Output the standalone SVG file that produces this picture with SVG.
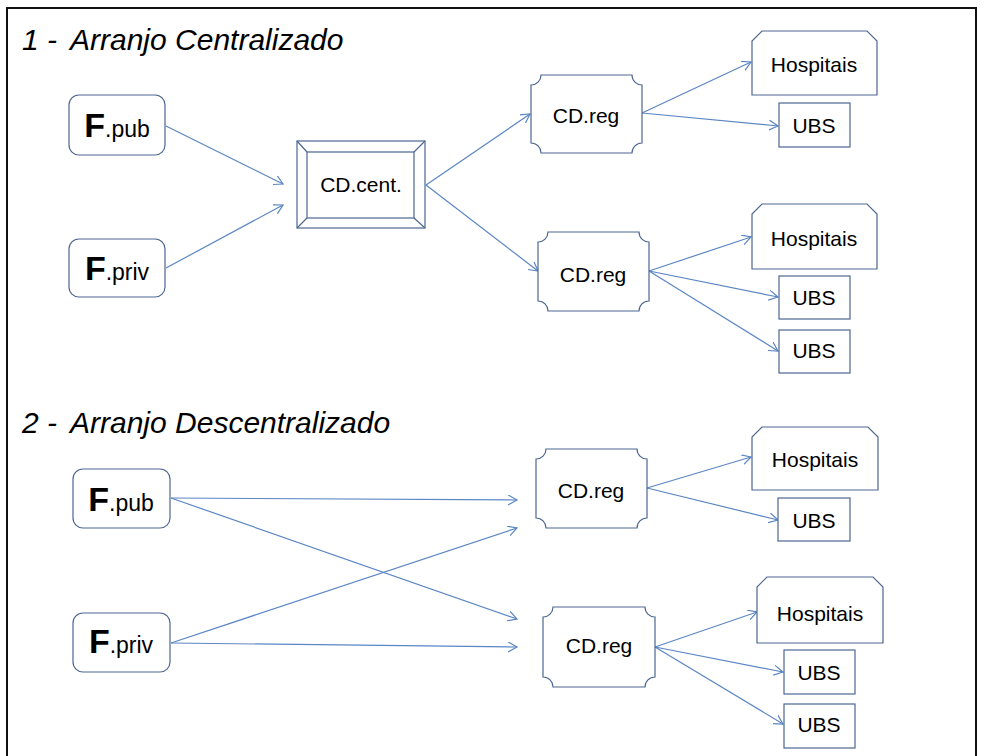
<svg xmlns="http://www.w3.org/2000/svg" width="990" height="756" viewBox="0 0 990 756">
  <style>
    .node { fill: #ffffff; stroke: #4e6792; stroke-width: 1.2; }
    .lbl { font-family: "Liberation Sans", Arial, sans-serif; font-size: 21px; fill: #000000; text-anchor: middle; }
    .title { font-family: "Liberation Sans", Arial, sans-serif; font-size: 30px; font-style: italic; fill: #000000; }
    .big { font-family: "Liberation Sans", Arial, sans-serif; font-size: 34px; font-weight: bold; }
    .small { font-family: "Liberation Sans", Arial, sans-serif; font-size: 23px; }
    .conn { fill: none; stroke: #5b86c4; stroke-width: 1.2; marker-end: url(#arrow); }
  </style>
  <defs>
    <marker id="arrow" markerUnits="userSpaceOnUse" markerWidth="12" markerHeight="12" refX="9" refY="5" orient="auto">
      <path d="M0,0 L9,5 L0,10" fill="none" stroke="#5b86c4" stroke-width="1.2"/>
    </marker>
  </defs>

  <rect width="990" height="756" fill="#ffffff"/>
  <!-- outer frame (open at the bottom) -->
  <path d="M7,756 V8 H976 V756" fill="none" stroke="#111111" stroke-width="2"/>

  <!-- section titles -->
  <text class="title" x="22" y="50">1 -</text>
  <text class="title" x="70" y="50">Arranjo Centralizado</text>
  <text class="title" x="22" y="433">2 -</text>
  <text class="title" x="70" y="433">Arranjo Descentralizado</text>

  <g id="connectors">
    <!-- section 1 -->
    <line class="conn" x1="166" y1="126" x2="283" y2="184"/>
    <line class="conn" x1="166" y1="268" x2="283" y2="205"/>
    <line class="conn" x1="426" y1="185" x2="530" y2="114"/>
    <line class="conn" x1="426" y1="185" x2="538" y2="271"/>
    <line class="conn" x1="642" y1="113" x2="751" y2="62"/>
    <line class="conn" x1="642" y1="113" x2="778" y2="126"/>
    <line class="conn" x1="649" y1="271" x2="751" y2="237"/>
    <line class="conn" x1="649" y1="271" x2="778" y2="297"/>
    <line class="conn" x1="649" y1="271" x2="778" y2="351"/>
    <!-- section 2 -->
    <line class="conn" x1="171" y1="498" x2="517" y2="500"/>
    <line class="conn" x1="171" y1="498" x2="517" y2="619"/>
    <line class="conn" x1="171" y1="643" x2="517" y2="528"/>
    <line class="conn" x1="171" y1="643" x2="517" y2="647"/>
    <line class="conn" x1="647" y1="488" x2="751" y2="457"/>
    <line class="conn" x1="647" y1="488" x2="778" y2="520"/>
    <line class="conn" x1="655" y1="647" x2="757" y2="612"/>
    <line class="conn" x1="655" y1="647" x2="783" y2="672"/>
    <line class="conn" x1="655" y1="647" x2="783" y2="724"/>
  </g>

  <!-- section 1 nodes -->
  <g id="fpub1">
    <rect class="node" x="69" y="95" width="96" height="60" rx="10"/>
    <text x="117" y="137" text-anchor="middle"><tspan class="big">F</tspan><tspan class="small">.pub</tspan></text>
  </g>
  <g id="fpriv1">
    <rect class="node" x="69" y="239" width="96" height="58" rx="10"/>
    <text x="117" y="280" text-anchor="middle"><tspan class="big">F</tspan><tspan class="small">.priv</tspan></text>
  </g>
  <g id="cdcent">
    <rect class="node" x="297" y="141" width="128" height="87"/>
    <rect class="node" x="307" y="152" width="107" height="66"/>
    <path d="M297,141 L307,152 M425,141 L414,152 M297,228 L307,218 M425,228 L414,218" fill="none" stroke="#4e6792" stroke-width="1.2"/>
    <text class="lbl" x="361" y="192">CD.cent.</text>
  </g>
  <g id="cdreg1">
    <path class="node" d="M541,75 H632 A10,10 0 0 0 642,85 V143 A10,10 0 0 0 632,153 H541 A10,10 0 0 0 531,143 V85 A10,10 0 0 0 541,75 Z"/>
    <text class="lbl" x="586" y="123">CD.reg</text>
  </g>
  <g id="cdreg2">
    <path class="node" d="M548,232 H639 A10,10 0 0 0 649,242 V301 A10,10 0 0 0 639,311 H548 A10,10 0 0 0 538,301 V242 A10,10 0 0 0 548,232 Z"/>
    <text class="lbl" x="593" y="282">CD.reg</text>
  </g>
  <g id="hosp1">
    <path class="node" d="M762,31 H867 L877,41 V95 H752 V41 Z"/>
    <text class="lbl" x="814" y="72">Hospitais</text>
  </g>
  <g id="ubs1">
    <rect class="node" x="779" y="103" width="71" height="44"/>
    <text class="lbl" x="814" y="133">UBS</text>
  </g>
  <g id="hosp2">
    <path class="node" d="M762,204 H867 L877,214 V269 H752 V214 Z"/>
    <text class="lbl" x="814" y="246">Hospitais</text>
  </g>
  <g id="ubs2">
    <rect class="node" x="779" y="276" width="71" height="43"/>
    <text class="lbl" x="814" y="305">UBS</text>
  </g>
  <g id="ubs3">
    <rect class="node" x="779" y="330" width="71" height="43"/>
    <text class="lbl" x="814" y="358">UBS</text>
  </g>

  <!-- section 2 nodes -->
  <g id="fpub2">
    <rect class="node" x="73" y="469" width="97" height="59" rx="10"/>
    <text x="121" y="511" text-anchor="middle"><tspan class="big">F</tspan><tspan class="small">.pub</tspan></text>
  </g>
  <g id="fpriv2">
    <rect class="node" x="73" y="613" width="97" height="59" rx="10"/>
    <text x="121" y="653" text-anchor="middle"><tspan class="big">F</tspan><tspan class="small">.priv</tspan></text>
  </g>
  <g id="cdreg3">
    <path class="node" d="M546,449 H637 A10,10 0 0 0 647,459 V518 A10,10 0 0 0 637,528 H546 A10,10 0 0 0 536,518 V459 A10,10 0 0 0 546,449 Z"/>
    <text class="lbl" x="591" y="498">CD.reg</text>
  </g>
  <g id="cdreg4">
    <path class="node" d="M553,607 H645 A10,10 0 0 0 655,617 V677 A10,10 0 0 0 645,687 H553 A10,10 0 0 0 543,677 V617 A10,10 0 0 0 553,607 Z"/>
    <text class="lbl" x="599" y="653">CD.reg</text>
  </g>
  <g id="hosp3">
    <path class="node" d="M762,427 H868 L878,437 V490 H752 V437 Z"/>
    <text class="lbl" x="815" y="467">Hospitais</text>
  </g>
  <g id="ubs4">
    <rect class="node" x="778" y="498" width="72" height="43"/>
    <text class="lbl" x="814" y="528">UBS</text>
  </g>
  <g id="hosp4">
    <path class="node" d="M767,577 H873 L883,587 V643 H757 V587 Z"/>
    <text class="lbl" x="820" y="621">Hospitais</text>
  </g>
  <g id="ubs5">
    <rect class="node" x="784" y="650" width="71" height="44"/>
    <text class="lbl" x="819" y="680">UBS</text>
  </g>
  <g id="ubs6">
    <rect class="node" x="784" y="704" width="71" height="44"/>
    <text class="lbl" x="819" y="732">UBS</text>
  </g>
</svg>
